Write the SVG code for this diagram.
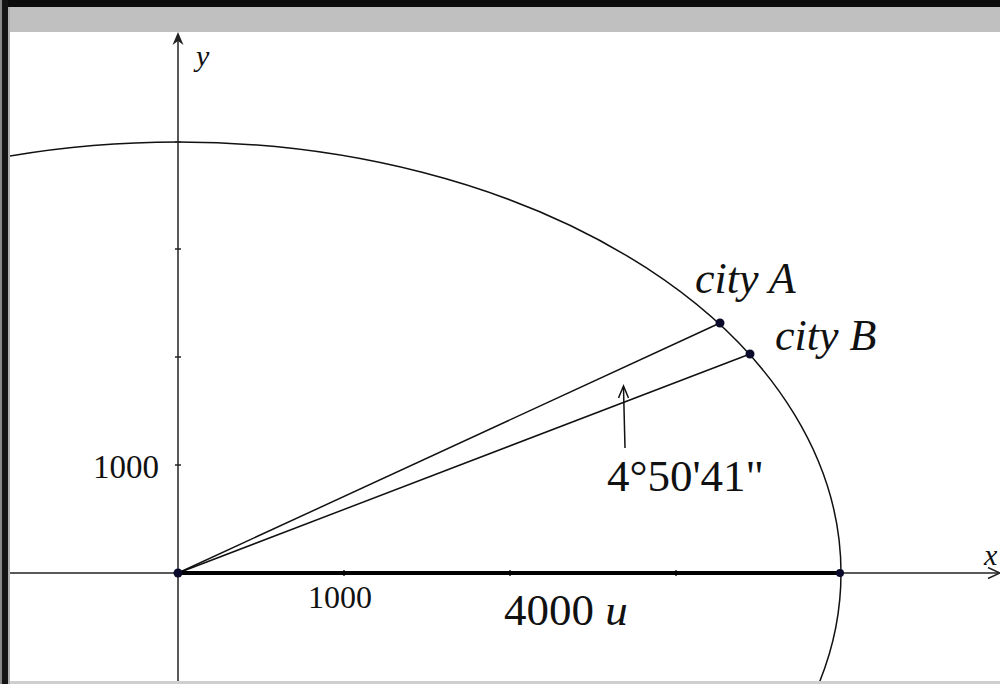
<svg xmlns="http://www.w3.org/2000/svg" width="1000" height="684" viewBox="0 0 1000 684">
  <style>
    .ax { stroke: #222; stroke-width: 1.5; fill: none; }
    .ln { stroke: #111; stroke-width: 1.5; fill: none; }
    .tick { stroke: #222; stroke-width: 1.5; }
    .pt { fill: #0a0a2a; }
    .num { font-family: "Liberation Serif", "Times New Roman", serif; fill: #111; }
    .it { font-family: "Liberation Serif", "Times New Roman", serif; font-style: italic; fill: #111; }
  </style>
  <defs>
    <clipPath id="plot">
      <rect x="10" y="32" width="990" height="649"/>
    </clipPath>
  </defs>

  <!-- frame -->
  <g id="frame">
    <rect x="0" y="0" width="1000" height="684" fill="#ffffff"/>
    <rect x="0" y="0" width="1000" height="7" fill="#0c0c0c"/>
    <rect x="10" y="7" width="990" height="25" fill="#c0c0c0"/>
    <rect x="0" y="0" width="2" height="684" fill="#888888"/>
    <rect x="2" y="0" width="6" height="684" fill="#141414"/>
    <rect x="8" y="7" width="2" height="677" fill="#b0b0b0"/>
    <rect x="10" y="681" width="990" height="3" fill="#cfcfcf"/>
  </g>

  <g id="plot-area" clip-path="url(#plot)">
    <!-- ellipse (circle of radius 4000 in graph units) -->
    <g id="circle">
      <ellipse cx="178" cy="573" rx="663" ry="431" class="ln"/>
    </g>

    <!-- axes -->
    <g id="axes">
      <line x1="178" y1="34" x2="178" y2="684" class="ax"/>
      <path d="M172.5,45 L178,32 L183.5,45 L178,41 Z" fill="#222"/>
      <line x1="10" y1="573" x2="998" y2="573" class="ax"/>
      <path d="M988,567.5 L1000,573 L988,578.5" class="ax"/>
      <!-- y ticks -->
      <line x1="175" y1="465" x2="181" y2="465" class="tick"/>
      <line x1="175" y1="357" x2="181" y2="357" class="tick"/>
      <line x1="175" y1="249" x2="181" y2="249" class="tick"/>
      <line x1="175" y1="142" x2="181" y2="142" class="tick"/>
      <!-- x ticks -->
      <line x1="344" y1="570" x2="344" y2="576" class="tick"/>
      <line x1="510" y1="570" x2="510" y2="576" class="tick"/>
      <line x1="676" y1="570" x2="676" y2="576" class="tick"/>
      <text x="196" y="66" class="it" font-size="30">y</text>
      <text x="984" y="565" class="it" font-size="30">x</text>
      <text x="93" y="478" class="num" font-size="33">1000</text>
      <text x="308" y="608" class="num" font-size="32">1000</text>
    </g>

    <!-- connectors -->
    <g id="connectors">
      <line x1="178" y1="573" x2="720" y2="323" class="ln"/>
      <line x1="178" y1="573" x2="750" y2="354" class="ln"/>
      <line x1="178" y1="573" x2="840" y2="573" stroke="#000" stroke-width="4"/>
      <line x1="625" y1="448" x2="623.5" y2="388" class="ln"/>
      <path d="M618.5,398 L623.5,386 L628.5,398" class="ln"/>
    </g>

    <!-- nodes -->
    <g id="origin"><circle cx="178" cy="573" r="4.5" class="pt"/></g>
    <g id="radius-end"><circle cx="840" cy="573" r="4" class="pt"/></g>
    <g id="cityA">
      <circle cx="720" cy="323" r="4.5" class="pt"/>
      <text x="695" y="293" class="it" font-size="44">city A</text>
    </g>
    <g id="cityB">
      <circle cx="750" cy="354" r="4.5" class="pt"/>
      <text x="775" y="350" class="it" font-size="44">city B</text>
    </g>
    <g id="angle-label">
      <text x="607" y="491" font-family="'Liberation Serif', 'Times New Roman', serif" fill="#111" font-size="45">4°50'41"</text>
    </g>
    <g id="radius-label">
      <text x="504" y="625" class="num" font-size="45">4000 <tspan class="it">u</tspan></text>
    </g>
  </g>
</svg>
